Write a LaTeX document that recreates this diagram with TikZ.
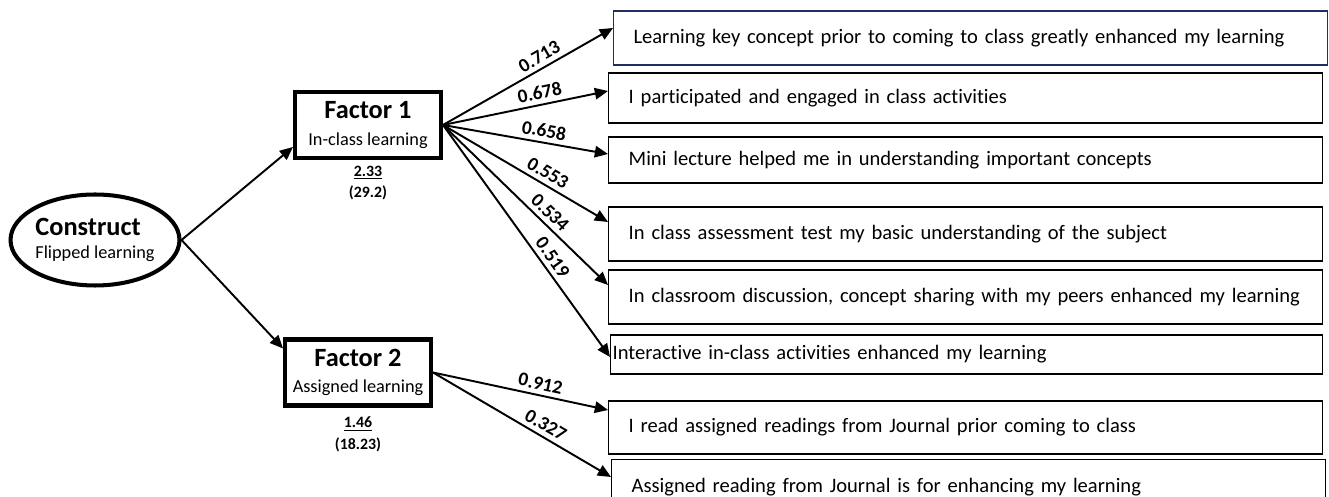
\documentclass[tikz,border=0pt]{standalone}
\usepackage{fontspec}
\setmainfont[Ligatures=NoCommon]{Carlito}
\usepackage{tikz}
\usetikzlibrary{shapes.geometric}
\usetikzlibrary{arrows.meta}
\usetikzlibrary{positioning}
\definecolor{itemblue}{RGB}{31,45,96}
\tikzstyle{latent}=[ellipse,draw=black,line width=2.3pt,minimum width=3.38cm,minimum height=1.82cm,align=left,inner sep=0pt]
\tikzstyle{factor}=[rectangle,draw=black,line width=2.3pt,minimum width=2.92cm,minimum height=1.32cm,align=center,inner sep=1pt]
\tikzstyle{item}=[rectangle,draw=black,line width=0.8pt,anchor=west,text width=13.48cm,inner xsep=0.4cm,align=left,font=\fontsize{11.7}{14}\selectfont]
\tikzstyle{eigen}=[align=center,font=\bfseries\fontsize{9}{12.5}\selectfont,inner sep=1pt]
\tikzstyle{loading}=[sloped,above,pos=0.6,font=\bfseries\fontsize{11}{13}\selectfont,inner sep=2.5pt]
\tikzstyle{arrow}=[-{Triangle[length=7.5pt,width=6.5pt]},line width=1.1pt]

\begin{document}
\begin{tikzpicture}[x=0.02cm,y=0.02cm]
      \useasboundingbox (0,0) rectangle (1329,497);
      \node[latent] at (95,257) (cons) {{\bfseries\fontsize{15}{17}\selectfont Construct}\\[1pt]{\fontsize{10.4}{12}\selectfont Flipped learning}};
      \node[factor] at (368,372) (fac1) {{\bfseries\fontsize{15}{17}\selectfont Factor 1}\\[3pt]{\fontsize{10.4}{12}\selectfont In-class learning}};
      \node[factor] at (358,124.5) (fac2) {{\bfseries\fontsize{15}{17}\selectfont Factor 2}\\[3pt]{\fontsize{10.4}{12}\selectfont Assigned learning}};
      \node[eigen,below=2pt of fac1] (eig1) {\underline{2.33}\\(29.2)};
      \node[eigen,below=4pt of fac2] (eig2) {\underline{1.46}\\(18.23)};
      \node[item,draw=itemblue,line width=0.6pt,minimum height=1.08cm] at (613,459) (q1) {Learning key concept prior to coming to class greatly enhanced my learning};
      \node[item,minimum height=1.0cm] at (608,399) (q2) {I participated and engaged in class activities};
      \node[item,minimum height=0.92cm] at (608,337) (q3) {Mini lecture helped me in understanding important concepts};
      \node[item,minimum height=1.08cm] at (608,263) (q4) {In class assessment test my basic understanding of the subject};
      \node[item,minimum height=1.08cm] at (608,200) (q5) {In classroom discussion, concept sharing with my peers enhanced my learning};
      \node[item,minimum height=0.78cm,inner xsep=0.04cm,text width=14.16cm] at (610,142.5) (q6) {Interactive in-class activities enhanced my learning};
      \node[item,minimum height=1.06cm] at (608,69.5) (q7) {I read assigned readings from Journal prior coming to class};
      \node[item,minimum height=1.1cm] at (611,10) (q8) {Assigned reading from Journal is for enhancing my learning};
      \draw[arrow] (cons.east)--([yshift=-0.44cm]fac1.west);
      \draw[arrow] (cons.east)--([yshift=0.48cm]fac2.west);
      \draw[arrow] (fac1.east)--node[loading]{0.713}([yshift=0.2cm]q1.west);
      \draw[arrow] (fac1.east)--node[loading]{0.678}([yshift=0.14cm]q2.west);
      \draw[arrow] (fac1.east)--node[loading]{0.658}([yshift=0.12cm]q3.west);
      \draw[arrow] (fac1.east)--node[loading]{0.553}([yshift=0.24cm]q4.west);
      \draw[arrow] (fac1.east)--node[loading]{0.534}([yshift=0.24cm]q5.west);
      \draw[arrow] (fac1.east)--node[loading]{0.519}([yshift=-0.05cm]q6.west);
      \draw[arrow] (fac2.east)--node[loading]{0.912}([yshift=0.35cm]q7.west);
      \draw[arrow] (fac2.east)--node[loading]{0.327}([yshift=0.2cm]q8.west);
\end{tikzpicture}
\end{document}
